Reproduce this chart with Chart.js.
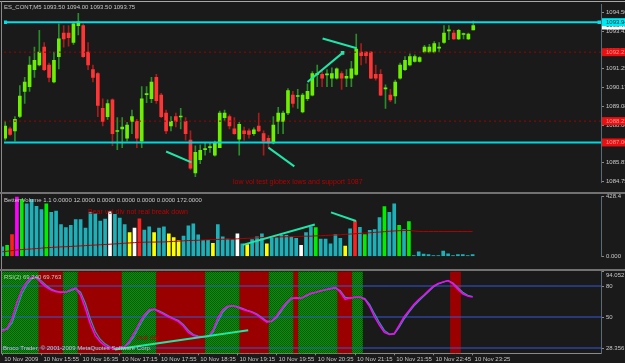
<!DOCTYPE html>
<html>
<head>
<meta charset="utf-8">
<title>ES_CONT,M5</title>
<script src="https://cdn.jsdelivr.net/npm/chart.js@4.4.0/dist/chart.umd.min.js"></script>
<style>
    body { margin: 0; background: #1a1a1a; }
    #wrap { position: relative; width: 625px; height: 363px; overflow: hidden; background: #1a1a1a; font-family: 'Liberation Sans', Arial, sans-serif; }
    canvas { position: absolute; left: 0; }
    .sep { position: absolute; left: 0; width: 625px; background: #727272; }
    .txt { position: absolute; white-space: nowrap; }
</style>
</head>
<body>
<div id="wrap">
    <canvas id="priceChart" width="625" height="192" style="top:0"></canvas>
    <canvas id="volumeChart" width="625" height="75" style="top:194px"></canvas>
    <canvas id="rsiChart" width="625" height="92" style="top:271px"></canvas>
    <div class="sep" style="top:1px;height:1px;background:#a8a8a8"></div>
    <div class="sep" style="top:1px;left:1px;width:1px;height:352px;background:#8a8a8a"></div>
    <div class="sep" style="top:192px;height:2px"></div>
    <div class="sep" style="top:269px;height:2px"></div>
</div>
<script>
// ---- data (ES_CONT M5, 10 Nov 2009) ----
const opens = [1087.24,1087.78,1087.67,1088.50,1089.95,1090.22,1091.20,1091.47,1092.50,1091.47,
    1090.49,1091.95,1093.31,1093.31,1092.77,1093.74,1093.74,1092.22,1091.20,1090.98,
    1088.97,1088.49,1089.46,1087.63,1087.78,1087.24,1088.22,1088.22,1087.08,1089.76,
    1089.52,1090.76,1089.73,1088.70,1087.95,1088.49,1088.47,1088.22,1087.13,1085.24,
    1086.00,1086.59,1086.70,1086.27,1086.70,1088.43,1088.49,1087.78,1087.19,1087.67,
    1087.67,1087.51,1087.95,1087.51,1087.24,1086.97,1088.22,1088.22,1088.70,1089.73,
    1089.65,1088.76,1089.52,1089.73,1090.93,1090.93,1090.90,1090.71,1090.71,1090.98,
    1090.71,1090.71,1090.93,1092.22,1092.22,1092.22,1090.93,1090.93,1090.09,1089.73,
    1089.68,1090.71,1091.20,1091.47,1091.68,1091.68,1092.22,1092.22,1092.22,1092.44,
    1092.77,1093.44,1093.31,1092.98,1093.23,1092.98,1093.50];
const closes = [1087.95,1087.47,1088.33,1089.68,1090.49,1091.47,1091.74,1092.22,1091.20,1090.76,
    1091.74,1092.98,1092.98,1093.04,1093.85,1093.96,1091.95,1091.47,1090.76,1089.14,
    1088.22,1089.25,1087.51,1087.67,1087.89,1088.00,1088.49,1087.24,1089.52,1089.79,
    1090.49,1089.41,1088.49,1087.67,1088.22,1088.22,1088.49,1087.51,1085.51,1086.43,
    1086.54,1086.65,1086.75,1086.97,1088.70,1088.70,1087.95,1087.51,1088.05,1087.51,
    1087.46,1087.73,1087.67,1087.08,1086.97,1088.00,1088.70,1088.70,1090.00,1089.25,
    1089.68,1089.73,1089.95,1090.98,1090.98,1090.71,1090.93,1090.98,1091.25,1090.71,
    1090.82,1091.25,1092.39,1092.01,1092.01,1090.71,1090.71,1089.73,1090.11,1089.46,
    1090.49,1091.47,1091.74,1091.95,1091.95,1091.90,1092.50,1092.50,1092.71,1092.50,
    1093.31,1093.47,1092.98,1093.47,1093.25,1093.25,1093.75];
const highs = [1088.22,1087.89,1088.49,1090.28,1090.76,1091.95,1092.50,1093.47,1092.77,1091.58,
    1092.22,1093.85,1093.74,1093.74,1093.96,1094.45,1093.85,1092.77,1091.47,1091.03,
    1089.52,1089.46,1089.52,1088.43,1088.43,1088.16,1088.87,1088.33,1090.22,1090.22,
    1090.76,1090.93,1089.84,1088.87,1088.49,1088.70,1088.97,1088.43,1087.67,1086.81,
    1086.86,1086.97,1086.97,1087.08,1088.81,1088.87,1088.60,1088.43,1088.16,1087.89,
    1087.78,1087.84,1088.70,1087.67,1087.40,1088.49,1089.03,1088.81,1090.11,1089.95,
    1090.06,1089.84,1090.38,1091.09,1091.47,1091.20,1091.20,1091.30,1091.30,1091.09,
    1091.20,1091.68,1093.25,1092.71,1092.25,1092.25,1091.47,1091.20,1090.33,1090.06,
    1090.60,1091.58,1091.95,1092.12,1092.06,1091.95,1092.60,1092.66,1092.82,1092.77,
    1093.74,1093.74,1093.47,1093.53,1093.31,1093.31,1094.00];
const lows = [1087.13,1087.40,1087.08,1088.43,1089.25,1089.95,1090.76,1091.41,1091.14,1090.49,
    1090.44,1091.25,1092.50,1092.55,1092.66,1093.20,1091.90,1091.20,1090.49,1088.49,
    1087.95,1088.33,1086.81,1086.59,1086.70,1087.08,1087.51,1086.70,1086.70,1089.30,
    1089.30,1089.25,1088.43,1087.51,1087.67,1087.89,1087.78,1087.13,1085.45,1085.02,
    1085.78,1086.27,1086.43,1086.21,1086.70,1088.27,1087.78,1087.46,1086.27,1087.13,
    1087.24,1087.40,1087.62,1086.27,1086.70,1086.92,1087.51,1087.51,1088.60,1089.03,
    1088.97,1088.70,1089.41,1089.68,1090.22,1090.22,1090.22,1090.22,1090.65,1090.06,
    1090.22,1090.22,1090.88,1091.47,1091.58,1090.68,1090.60,1089.70,1088.97,1089.35,
    1089.25,1090.65,1091.14,1091.41,1091.63,1091.63,1092.17,1092.17,1092.17,1092.22,
    1092.71,1092.93,1092.95,1092.93,1092.98,1092.93,1093.50];

// Better Volume bars, bar type code (t teal, g green, r red, m magenta, y yellow, w white) and average
const volumes = [67,78,155,420,404,373,404,355,332,373,
    312,322,225,204,220,261,261,200,312,302,
    251,265,316,298,271,225,169,200,267,186,
    210,169,200,210,159,133,112,143,216,231,
    153,114,114,92,226,139,122,118,159,88,
    84,118,139,159,88,139,133,149,149,139,
    128,78,169,210,204,122,122,88,155,128,
    73,196,251,206,155,184,190,275,353,312,
    373,220,190,247,5,31,16,12,5,5,
    37,18,6,12,12,5,12];
const volumeTypes = ('tgrmgttttgtttttttttttt' + 'wtttywrttyttyyytttttty' + 'ttttwtytttyttttttwttg' +
    'tttttytrtgtttgttgtg' + 'ttttttttttttt').split('');
const volumeAvg = [32,36,40,45,48,50,52,55,58,61,
    63,65,67,68,70,72,74,76,78,80,
    82,84,86,88,90,93,95,97,99,100,
    101,101,102,102,104,106,108,110,112,113,
    114,116,118,119,120,121,122,122,124,126,
    128,129,131,133,134,136,137,138,139,140,
    141,142,143,143,145,146,148,150,151,153,
    156,158,160,163,165,167,170,172,175,178,
    180,182,183,184,180,177,176,176,176,176,
    176,176,176,176,176,176,176];
const betterVolumeBuffers = [0, 12, 0, 0, 0, 0, 172];

// RSI(2) and its signal, plus the trend state shading (g up, r down, - none)
const rsi = [36,39,48,64,76,84,88.5,88,83,79,
    76,74.5,74,74,76.5,78,71,58,43,32,
    26,22,20,19.5,20.5,21.5,27,35,44,52,
    57,57.5,55,52.5,50,48,45.5,41,35,32,
    31,30.8,31,37,49,57,60.5,61,59.5,57.5,
    56,54.5,52,48.5,45,46,51,58,64,68.5,
    68.5,68,71,73,74,75.5,76.5,77.5,78.5,74,
    67,68.5,69.2,69.2,67,60,50,42,35,33,
    34,42,50,56,62,67,71,75.5,80,82.5,
    84,85.2,82,77,72.5,70.2,69.24];
const rsiSignal = [38,38,44,58,72,81,87,88.5,85,80.5,
    77,75,74,74,75.5,77.5,74,63,48,36,
    28.5,24,21,20,20.2,21.2,25,32,41,49.5,
    55.5,57.5,56,53.5,51,48.5,46.5,42.5,37,33,
    31.5,31,31,35,45.5,54.5,59.5,61,60,58.3,
    56.5,55,53,49.5,46,45.5,49.5,56,62.5,67.5,
    68.5,68.2,70.2,72.5,73.8,75.2,76.2,77.2,78.2,75.5,
    69,68.2,69,69.2,67.8,62,53,44.5,37,33.5,
    33.5,40,48,54.5,60.5,65.5,70,74.5,79,82,
    83.8,85.2,83,78.5,74,71,69.763];
const trendState = ('gggggggg' + 'rrrrr' + 'ggg' + 'rrrrrrrrr' + 'ggggggg' + 'rrrrrrrrrr' + 'ggggggg' +
    'rrrrrr' + 'ggggg' + 'r' + 'gggggggg' + 'rrr' + 'gg' + '------------------' + 'rr' + '---').split('');
const rsiLevels = [80, 50, 20];

// axis ticks
const xTicks = [0, 8, 16, 24, 32, 40, 48, 56, 64, 72, 80, 88, 96];
const xTickLabels = ['10 Nov 2009', '10 Nov 15:55', '10 Nov 16:35', '10 Nov 17:15', '10 Nov 17:55',
    '10 Nov 18:35', '10 Nov 19:15', '10 Nov 19:55', '10 Nov 20:35', '10 Nov 21:15',
    '10 Nov 21:55', '10 Nov 22:45', '10 Nov 23:25'];
const priceTicks = [1094.50, 1093.42, 1092.33, 1091.25, 1090.17, 1089.08, 1088.00, 1086.92, 1085.83, 1084.75];
const volumeTicks = [0, 428.4];
const volumeTickLabels = ['0.000', '428.4'];
const rsiTicks = [94.052, 80, 50, 20];
const rsiTickLabels = ['94.052', '80', '50', '28.356'];

// drawn objects: horizontal levels and trend lines [x1, y1, x2, y2] in bar index / value
const levelHigh = 1093.94;
const levelLow = 1087.00;
const redLevels = [1092.21, 1088.23];
const priceTrends = [[62.0, 1090.49, 69.2, 1092.17], [65.1, 1093.00, 72.1, 1092.44],
    [33.0, 1086.48, 38.2, 1085.85], [54.0, 1086.70, 59.3, 1085.62]];
const volumeTrends = [[49.1, 81, 63.8, 226], [67.1, 312, 72.2, 251]];
const rsiTrends = [[23.0, 18.6, 50.2, 37.2]];

document.addEventListener('DOMContentLoaded', function() {
    const wrap = document.getElementById('wrap');
    const X_MIN = -0.245, X_MAX = 122.2;
    const PRICE_MIN = 1084.70, PRICE_MAX = 1094.99;
    const RSI_MIN = 14.87, RSI_MAX = 94.052;
    const idx = opens.map((_, i) => i);
    const isUp = idx.map(i => closes[i] >= opens[i]);

    Chart.defaults.font.family = "'Liberation Sans', Arial, sans-serif";
    Chart.defaults.font.size = 6;
    Chart.defaults.color = '#c8c8c8';

    // Small text overlays
    function addText(text, x, y, size, color) {
        const el = document.createElement('div');
        el.className = 'txt';
        el.textContent = text;
        el.style.left = x + 'px';
        el.style.top = (y - size / 2) + 'px';
        el.style.fontSize = size + 'px';
        el.style.lineHeight = size + 'px';
        el.style.color = color;
        wrap.appendChild(el);
    }

    const xScale = (show) => ({
        type: 'linear', min: X_MIN, max: X_MAX, display: show, offset: false,
        grid: { display: show, offset: false, drawOnChartArea: false, drawTicks: true, tickLength: 2, color: '#8a8a8a' },
        border: { display: show, color: '#8a8a8a' },
        ticks: {
            align: 'start', padding: 0, labelOffset: 2, maxRotation: 0, autoSkip: false,
            callback: (v, i) => xTickLabels[i]
        },
        afterBuildTicks: s => { s.ticks = xTicks.map(v => ({ value: v })); },
        afterFit: s => { s.height = 9.7; s.paddingLeft = 0; s.paddingRight = 0; }
    });

    const yScale = (min, max, ticks, labelFn) => ({
        position: 'right', min: min, max: max,
        grid: { drawOnChartArea: false, drawTicks: true, tickLength: 3, color: '#8a8a8a' },
        border: { display: true, color: '#5a6a7a' },
        ticks: { padding: 2, callback: labelFn },
        afterBuildTicks: s => { s.ticks = ticks.map(v => ({ value: v })); },
        afterFit: s => { s.width = 24; s.paddingTop = 0; s.paddingBottom = 0; }
    });

    const segment = (t, color, width) => ({
        type: 'line',
        data: [{ x: t[0], y: t[1] }, { x: t[2], y: t[3] }],
        borderColor: color, borderWidth: width, pointRadius: 0, order: 0
    });

    const flat = (y, color, width, dash) => ({
        type: 'line',
        data: [{ x: X_MIN, y: y }, { x: X_MAX, y: y }],
        borderColor: color, borderWidth: width, borderDash: dash, pointRadius: 0, order: 1
    });

    const baseOptions = {
        responsive: false, animation: false, devicePixelRatio: 1, events: [],
        plugins: { legend: { display: false }, tooltip: { enabled: false } }
    };

    // Price labels boxes on the right axis
    const priceBoxes = [
        { value: closes[closes.length - 1], bg: '#ffffff', fg: '#202020' },
        { value: levelHigh, bg: '#00e8f0', fg: '#003040' },
        { value: redLevels[0], bg: '#e81010', fg: '#ff9090' },
        { value: redLevels[1], bg: '#e81010', fg: '#ff9090' },
        { value: levelLow, bg: '#e81010', fg: '#ff9090' }
    ];
    const axisBoxes = {
        id: 'axisBoxes',
        afterDraw(chart) {
            const ctx = chart.ctx;
            const y = chart.scales.y;
            ctx.save();
            ctx.font = "6px 'Liberation Sans'";
            ctx.textBaseline = 'middle';
            priceBoxes.forEach(b => {
                const py = y.getPixelForValue(b.value);
                ctx.fillStyle = b.bg;
                ctx.fillRect(y.left + 1, py - 4, y.width, 8);
                ctx.fillStyle = b.fg;
                ctx.fillText(b.value.toFixed(2), y.left + 5, py);
            });
            ctx.restore();
        }
    };

    // keep the top tick label of a short panel inside it (like the terminal does)
    const topLabelInside = {
        id: 'topLabelInside',
        beforeDraw(chart) {
            const y = chart.scales.y;
            const items = y.getLabelItems();
            if (items.length && items[0].options && items[0].options.translation) {
                const tr = items[0].options.translation;
                tr[1] = Math.max(tr[1], y.top + 3.5);
            }
        }
    };

    // ---- Price chart ----
    const trendColor = '#1ee6a8';
    const topLine = {
        type: 'line',
        data: [{ x: 0, y: levelHigh }, { x: 121.85, y: levelHigh }],
        borderColor: '#00e0e8', borderWidth: 2, pointStyle: 'rect', pointRadius: 2.5,
        pointBackgroundColor: '#00e0e8', pointBorderWidth: 0, order: 1
    };
    const firstTrend = segment(priceTrends[0], trendColor, 2);
    firstTrend.pointStyle = 'rect';
    firstTrend.pointRadius = [0, 2.5];
    firstTrend.pointBackgroundColor = trendColor;
    firstTrend.pointBorderWidth = 0;

    new Chart(document.getElementById('priceChart'), {
        type: 'bar',
        data: {
            datasets: [
                topLine,
                flat(levelLow, '#00d8e0', 2, []),
                flat(redLevels[0], '#a00000', 1, [2, 3]),
                flat(redLevels[1], '#a00000', 1, [2, 3]),
                firstTrend,
                ...priceTrends.slice(1).map(t => segment(t, trendColor, 2)),
                {
                    type: 'bar', order: 2, grouped: false, barThickness: 3, minBarLength: 1,
                    data: idx.map(i => ({ x: i, y: [opens[i], closes[i]] })),
                    backgroundColor: isUp.map(u => u ? '#6cf000' : '#ff3535')
                },
                {
                    type: 'bar', order: 3, grouped: false, barThickness: 1,
                    data: idx.map(i => ({ x: i, y: [lows[i], highs[i]] })),
                    backgroundColor: isUp.map(u => u ? '#2a8c2a' : '#a81c1c')
                }
            ]
        },
        options: Object.assign({}, baseOptions, {
            layout: { padding: { left: 1, right: 0, top: 2, bottom: 0 } },
            scales: {
                x: xScale(false),
                y: yScale(PRICE_MIN, PRICE_MAX, priceTicks, v => v.toFixed(2))
            }
        }),
        plugins: [axisBoxes]
    });

    // ---- Volume chart ----
    const volumeColors = { t: '#1eb0b8', g: '#00ee00', r: '#ff2020', m: '#ff00ff', y: '#ffff00', w: '#ffffff' };
    new Chart(document.getElementById('volumeChart'), {
        type: 'bar',
        data: {
            datasets: [
                ...volumeTrends.map(t => segment(t, trendColor, 2)),
                {
                    type: 'line', order: 1, data: idx.map(i => ({ x: i, y: volumeAvg[i] })),
                    borderColor: '#b00000', borderWidth: 1, pointRadius: 0
                },
                {
                    type: 'bar', order: 2, grouped: false, barThickness: 3,
                    data: idx.map(i => ({ x: i, y: volumes[i] })),
                    backgroundColor: volumeTypes.map(c => volumeColors[c])
                }
            ]
        },
        options: Object.assign({}, baseOptions, {
            layout: { padding: { left: 1, right: 0, top: 2, bottom: 3 } },
            scales: {
                x: xScale(false),
                y: yScale(0, 428.4, volumeTicks, (v, i) => volumeTickLabels[i])
            }
        })
    });

    // ---- RSI chart ----
    const rsiCanvas = document.getElementById('rsiChart');
    const hatch = document.createElement('canvas');
    hatch.width = 2;
    hatch.height = 2;
    const hctx = hatch.getContext('2d');
    hctx.fillStyle = '#005c00';
    hctx.fillRect(0, 0, 2, 2);
    hctx.fillStyle = '#009400';
    hctx.fillRect(0, 0, 1, 1);
    hctx.fillRect(1, 1, 1, 1);
    const greenFill = rsiCanvas.getContext('2d').createPattern(hatch, 'repeat');

    const shaded = idx.filter(i => trendState[i] !== '-');
    new Chart(rsiCanvas, {
        type: 'bar',
        data: {
            datasets: [
                ...rsiTrends.map(t => segment(t, trendColor, 2)),
                {
                    type: 'line', order: 1, data: idx.map(i => ({ x: i, y: rsi[i] })),
                    borderColor: '#ff00ff', borderWidth: 1.5, pointRadius: 0
                },
                {
                    type: 'line', order: 2, data: idx.map(i => ({ x: i, y: rsiSignal[i] })),
                    borderColor: '#1aa0a8', borderWidth: 1.2, pointRadius: 0
                },
                ...rsiLevels.map(l => Object.assign(flat(l, '#3458d8', 1, []), { order: 3 })),
                {
                    type: 'bar', order: 4, grouped: false, barThickness: 5.2,
                    data: shaded.map(i => ({ x: i, y: [RSI_MIN, RSI_MAX] })),
                    backgroundColor: shaded.map(i => trendState[i] === 'g' ? greenFill : '#9a0000')
                }
            ]
        },
        options: Object.assign({}, baseOptions, {
            layout: { padding: { left: 1, right: 0, top: 0.5, bottom: 0 } },
            scales: {
                x: xScale(true),
                y: yScale(RSI_MIN, RSI_MAX, rsiTicks, (v, i) => rsiTickLabels[i])
            }
        }),
        plugins: [topLabelInside]
    });

    // ---- Texts ----
    const last = opens.length - 1;
    addText('ES_CONT,M5  ' + [opens[last], highs[last], lows[last], closes[last]].map(v => v.toFixed(2)).join(' '),
        4, 7, 6, '#c8c8c8');
    addText('Better Volume 1.1  ' + betterVolumeBuffers.map(v => v.toFixed(4)).join(' '), 4, 200, 6, '#c8c8c8');
    addText('RSI(2) ' + rsi[last].toFixed(3) + ' ' + rsiSignal[last].toFixed(3), 4, 277, 6, '#c8c8c8');
    addText('Broco Trader, \u00a9 2001-2009 MetaQuotes Software Corp.', 3, 348, 6, '#c8c8c8');
    addText('low vol test globex lows and support 1087', 233, 181, 7, '#b40000');
    addText('Bear vol div not real break down', 88, 211, 7, '#c00000');
    addText('bull div', 137, 337, 7, '#c00000');
});
</script>
</body>
</html>
